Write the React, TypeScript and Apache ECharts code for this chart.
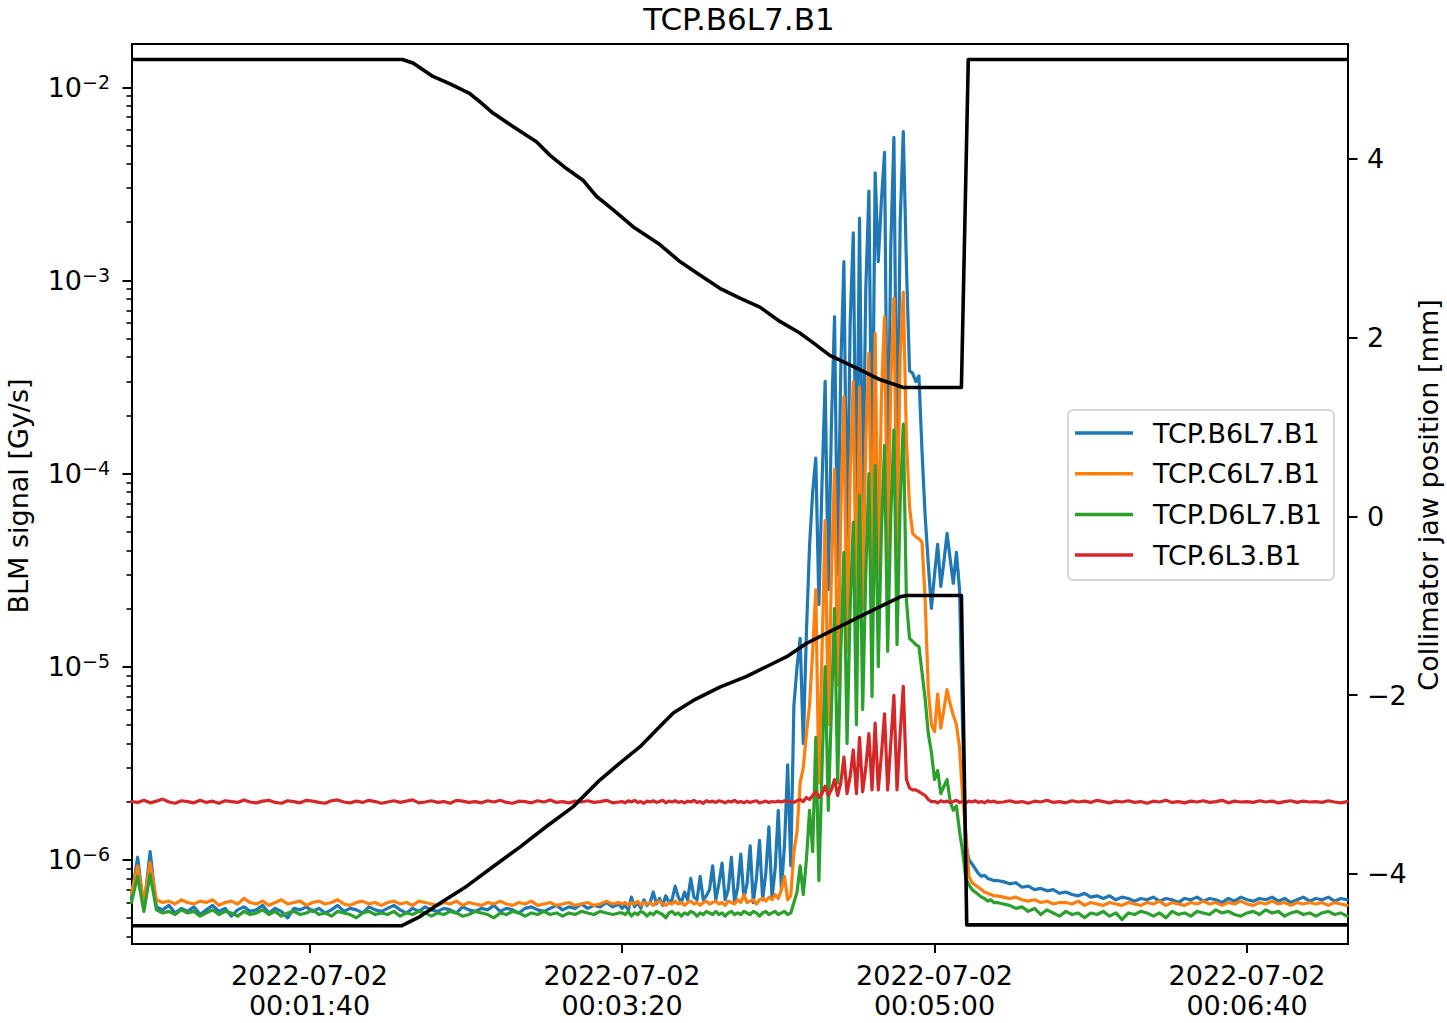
import React, { useEffect, useRef } from "react";
import * as echarts from "echarts";

const FONT = "DejaVu Sans";
// BLM signal values below are written in units of 1e-7 Gy/s
const UNIT = 1e-7;

const seriesNames = ["TCP.B6L7.B1", "TCP.C6L7.B1", "TCP.D6L7.B1", "TCP.6L3.B1"];
const seriesColors = ["#1f77b4", "#ff7f0e", "#2ca02c", "#d62728"];

// sampling of the BLM arrays (seconds after 2022-07-02 00:00:00)
const segA = { start: 43, step: 2 }; // 43 .. 199
const segB = { start: 200, step: 1 }; // 200 .. 320
const segC = { start: 322, step: 2 }; // 322 .. 432

// x axis ticks
const xTickSeconds = [100, 200, 300, 400];
const xTickLabels = ["2022-07-02\n00:01:40", "2022-07-02\n00:03:20", "2022-07-02\n00:05:00", "2022-07-02\n00:06:40"];
// left (log) axis ticks
const blmTicks = [1e-6, 1e-5, 1e-4, 1e-3, 1e-2];
const blmMinorTicks = [
  4e-7, 5e-7, 6e-7, 7e-7, 8e-7, 9e-7,
  2e-6, 3e-6, 4e-6, 5e-6, 6e-6, 7e-6, 8e-6, 9e-6,
  2e-5, 3e-5, 4e-5, 5e-5, 6e-5, 7e-5, 8e-5, 9e-5,
  2e-4, 3e-4, 4e-4, 5e-4, 6e-4, 7e-4, 8e-4, 9e-4,
  2e-3, 3e-3, 4e-3, 5e-3, 6e-3, 7e-3, 8e-3, 9e-3,
];
// right axis ticks
const jawTicks = [-4, -2, 0, 2, 4];

// ---- TCP.B6L7.B1 (blue)
const blueA = [
  6.3, 10.3, 5.6, 11.0, 5.7, 5.5, 5.8, 5.3, 5.6, 5.4,
  5.7, 5.2, 5.5, 5.8, 5.4, 5.6, 5.1, 5.5, 5.7, 5.4,
  5.5, 5.8, 5.3, 5.6, 5.4, 5.0, 5.6, 5.5, 5.7, 5.4,
  5.6, 5.3, 5.5, 5.8, 5.4, 5.6, 5.5, 5.3, 5.7, 5.5,
  5.4, 5.6, 5.8, 5.5, 5.3, 5.6, 5.4, 5.7, 5.5, 5.4,
  5.6, 5.5, 5.3, 5.7, 5.5, 5.4, 5.6, 5.5, 5.8, 5.4,
  5.6, 5.5, 5.3, 5.6, 5.7, 5.5, 5.4, 5.6, 5.8, 5.5,
  5.7, 5.6, 5.9, 5.6, 5.8, 5.7, 6.0, 5.7, 5.9,
];
const blueB = [
  5.6, 5.8, 5.5, 6.4, 5.7, 6.0, 5.6, 6.2, 5.8, 6.0,
  6.8, 5.9, 6.3, 5.8, 6.5, 6.0, 6.2, 7.3, 6.4, 6.0,
  6.8, 6.2, 8.0, 6.4, 6.2, 8.2, 6.2, 6.5, 7.0, 9.3,
  6.2, 7.5, 9.6, 6.2, 7.0, 10.3, 6.0, 7.2, 10.7, 6.3,
  7.5, 11.8, 6.0, 8.0, 12.6, 6.2, 8.5, 14.8, 6.3, 9.0,
  18, 7.0, 12, 31, 9.3, 63, 100, 140, 40, 150,
  420, 800, 1200, 210, 900, 3000, 250, 1800, 6500, 300,
  3500, 12500, 400, 6000, 17600, 500, 21000, 600, 9000, 29000,
  800, 36000, 12500, 26000, 46000, 700, 15000, 55000, 900, 20000,
  59000, 12000, 3400, 3300, 3000, 3200, 1300, 600, 340, 200,
  300, 430, 260, 350, 490, 360, 270, 390, 250, 46,
  12, 10, 9.5, 9.0, 8.5, 8.2, 8.3, 8.0, 7.9, 7.8,
  7.8,
];
const blueC = [
  7.7, 7.5, 7.6, 7.2, 7.3, 7.0, 7.1, 6.9, 7.0, 6.7,
  6.8, 6.6, 6.5, 6.7, 6.4, 6.5, 6.3, 6.5, 6.2, 6.4,
  6.3, 6.1, 6.3, 6.2, 6.4, 6.1, 6.3, 6.2, 6.0, 6.3,
  6.2, 6.4, 6.1, 6.3, 6.2, 6.0, 6.3, 6.1, 6.4, 6.2,
  6.1, 6.3, 6.2, 6.4, 6.1, 6.3, 6.0, 6.2, 6.4, 6.1,
  6.3, 6.2, 6.4, 6.1, 6.3, 6.2,
];

// ---- TCP.C6L7.B1 (orange)
const orangeA = [
  6.7, 9.3, 6.0, 9.7, 6.2, 6.0, 6.1, 5.9, 6.2, 6.0,
  5.9, 6.1, 6.0, 6.2, 5.8, 6.0, 6.1, 5.9, 6.3, 6.0,
  5.9, 6.1, 5.8, 6.0, 6.2, 5.9, 6.0, 6.1, 5.8, 6.0,
  6.1, 5.9, 6.0, 6.2, 5.9, 5.8, 6.0, 6.1, 5.9, 6.0,
  5.8, 6.0, 6.1, 5.9, 6.0, 5.8, 6.1, 6.0, 5.9, 5.8,
  6.0, 5.9, 6.1, 5.8, 6.0, 5.9, 5.8, 6.0, 5.9, 6.1,
  5.9, 5.8, 6.0, 5.9, 6.1, 5.8, 5.9, 6.0, 5.8, 5.9,
  6.0, 5.8, 5.9, 6.0, 5.8, 5.9, 6.1, 5.9, 6.0,
];
const orangeB = [
  5.9, 6.0, 5.8, 6.0, 5.9, 6.1, 5.8, 6.0, 5.9, 6.0,
  5.8, 6.0, 6.1, 5.9, 5.8, 6.0, 5.9, 6.1, 5.9, 6.0,
  5.8, 6.0, 6.1, 5.9, 6.0, 5.8, 6.0, 6.1, 5.9, 6.0,
  6.1, 5.9, 6.0, 5.8, 6.1, 6.0, 5.9, 6.2, 6.0, 6.6,
  6.0, 6.1, 6.2, 5.9, 6.2, 6.3, 6.1, 6.4, 6.2, 6.6,
  6.3, 7.0, 8.2, 6.2, 6.5, 11, 14, 25, 30, 45,
  63, 120, 250, 25, 120, 570, 50, 300, 1050, 80,
  600, 2500, 120, 1000, 3000, 160, 2800, 200, 1500, 4200,
  250, 5300, 300, 2500, 6500, 350, 3000, 8100, 400, 4000,
  8700, 1500, 670, 490, 470, 460, 440, 220, 76, 50,
  46, 72, 48, 60, 76, 64, 56, 50, 38, 21,
  14, 8.2, 7.6, 7.4, 7.2, 7.0, 6.8, 6.7, 6.6, 6.5,
  6.5,
];
const orangeC = [
  6.4, 6.3, 6.4, 6.2, 6.1, 6.2, 6.0, 6.1, 5.9, 6.0,
  6.0, 5.9, 6.1, 5.8, 6.0, 5.9, 5.8, 6.0, 5.9, 5.8,
  6.0, 5.9, 5.8, 6.0, 5.9, 6.1, 5.8, 6.0, 5.9, 5.8,
  6.0, 5.9, 6.1, 5.9, 6.0, 5.8, 6.0, 5.9, 6.1, 5.9,
  5.8, 6.0, 5.9, 6.1, 5.9, 6.0, 5.8, 6.0, 5.9, 6.0,
  5.9, 6.0, 5.8, 6.0, 5.9, 5.8,
];

// ---- TCP.D6L7.B1 (green)
const greenA = [
  6.0, 8.2, 5.4, 8.4, 5.5, 5.3, 5.4, 5.2, 5.5, 5.3,
  5.4, 5.1, 5.3, 5.5, 5.2, 5.4, 5.3, 5.1, 5.4, 5.2,
  5.3, 5.5, 5.2, 5.4, 5.1, 5.3, 5.4, 5.2, 5.3, 5.5,
  5.2, 5.3, 5.1, 5.4, 5.3, 5.2, 5.0, 5.3, 5.4, 5.2,
  5.3, 5.2, 5.4, 5.1, 5.3, 5.2, 5.4, 5.3, 5.1, 5.3,
  5.2, 5.4, 5.3, 5.1, 5.2, 5.4, 5.3, 5.2, 5.0, 5.3,
  5.2, 5.4, 5.3, 5.1, 5.3, 5.2, 5.4, 5.2, 5.3, 5.1,
  5.3, 5.2, 5.4, 5.3, 5.2, 5.4, 5.3, 5.2, 5.3,
];
const greenB = [
  5.3, 5.2, 5.4, 5.1, 5.3, 5.2, 5.4, 5.3, 5.1, 5.3,
  5.2, 5.4, 5.3, 5.2, 5.0, 5.3, 5.4, 5.2, 5.3, 5.1,
  5.3, 5.2, 5.4, 5.3, 5.1, 5.3, 5.2, 5.4, 5.3, 5.2,
  5.4, 5.2, 5.3, 5.1, 5.3, 5.4, 5.2, 5.3, 5.2, 5.4,
  5.3, 5.2, 5.4, 5.3, 5.1, 5.3, 5.4, 5.2, 5.3, 5.4,
  5.2, 5.3, 5.4, 5.2, 5.3, 6.0, 6.8, 9.3, 6.6, 10,
  18, 11, 43, 7.8, 30, 100, 18, 60, 200, 25,
  120, 390, 40, 200, 560, 50, 770, 60, 300, 1000,
  70, 1100, 100, 500, 1400, 120, 600, 1680, 130, 700,
  1800, 220, 140, 135, 130, 127, 93, 68, 45, 36,
  26, 29, 22, 24, 26, 20, 18, 19, 14, 11,
  8.0, 7.4, 7.0, 6.8, 6.6, 6.4, 6.3, 6.1, 6.2, 6.0,
  6.0,
];
const greenC = [
  5.9, 5.8, 5.6, 5.7, 5.4, 5.6, 5.2, 5.5, 5.3, 5.1,
  5.4, 5.2, 5.3, 5.0, 5.3, 5.2, 5.4, 5.1, 5.3, 4.9,
  5.3, 5.2, 5.4, 5.3, 5.1, 5.3, 5.0, 5.4, 5.2, 5.3,
  5.1, 5.4, 5.3, 5.2, 5.5, 5.3, 5.4, 5.2, 5.1, 5.3,
  5.4, 5.2, 5.5, 5.3, 5.4, 5.1, 5.3, 5.4, 5.2, 5.3,
  5.1, 5.3, 5.4, 5.2, 5.3, 5.1,
];

// ---- TCP.6L3.B1 (red)
const redA = [
  20.0, 19.8, 20.3, 19.7, 20.1, 20.6, 19.9, 19.6, 20.2, 20.0,
  19.7, 20.3, 19.8, 20.1, 19.6, 20.2, 20.0, 19.8, 20.4, 19.9,
  19.7, 20.1, 20.3, 19.8, 19.6, 20.2, 20.0, 19.7, 20.3, 20.1,
  19.8, 19.6, 20.2, 20.4, 19.9, 19.7, 20.1, 19.8, 20.3, 20.0,
  19.6, 19.9, 20.2, 19.8, 20.1, 20.4, 19.7, 19.9, 20.2, 19.8,
  20.0, 19.6, 20.3, 20.1, 19.8, 20.0, 19.7, 20.2, 19.9, 20.3,
  19.8, 19.6, 20.1, 20.0, 19.7, 20.2, 19.9, 20.4, 19.8, 20.0,
  19.7, 20.1, 19.9, 20.2, 19.8, 20.0, 20.3, 19.7, 19.9,
];
const redB = [
  20.0, 19.7, 20.2, 19.9, 20.3, 19.8, 20.0, 19.6, 20.1, 19.9,
  20.2, 19.8, 20.0, 20.3, 19.7, 20.1, 19.9, 20.2, 19.8, 20.0,
  19.7, 20.1, 19.9, 20.3, 19.8, 20.0, 19.6, 20.2, 19.9, 20.1,
  19.8, 20.2, 20.0, 19.7, 20.1, 19.9, 20.3, 19.8, 20.0, 19.7,
  20.1, 19.8, 20.0, 20.2, 19.7, 19.9, 20.1, 19.8, 20.0, 19.9,
  20.1, 19.9, 20.2, 20.0, 20.0, 19.8, 20.2, 20.5, 20.0, 21.0,
  20.5, 21.5, 22.5, 21.0, 22.0, 24.0, 21.5, 23.0, 26.0, 21.5,
  25.0, 34.0, 22.0, 27.0, 37.0, 22.0, 43.0, 22.5, 30.0, 45.0,
  23.0, 51.0, 23.0, 35.0, 57.0, 23.0, 40.0, 71.0, 23.0, 45.0,
  79.0, 26.0, 23.5, 23.0, 23.0, 22.5, 22.0, 21.5, 20.5, 20.0,
  20.0, 19.7, 20.2, 19.9, 20.1, 19.8, 20.0, 20.3, 19.8, 20.0,
  19.7, 20.1, 19.9, 20.2, 19.8, 20.0, 19.7, 20.2, 19.9, 20.1,
  19.8,
];
const redC = [
  19.9, 20.2, 19.8, 20.0, 19.6, 20.1, 19.9, 20.3, 19.8, 20.0,
  19.7, 20.2, 19.9, 20.1, 19.8, 20.3, 20.0, 19.7, 20.1, 19.9,
  20.2, 19.8, 20.0, 19.6, 20.1, 19.9, 20.3, 19.8, 20.0, 19.7,
  20.1, 19.9, 20.2, 19.8, 20.0, 20.3, 19.7, 20.1, 19.9, 20.0,
  19.8, 20.2, 19.9, 20.1, 19.7, 20.0, 20.2, 19.8, 20.1, 19.9,
  20.0, 19.8, 20.2, 19.9, 19.7, 20.0,
];

// ---- collimator jaw positions [mm] (right axis)
const jawUpperT = [43.2, 129.7, 133.1, 139.5, 144.8, 151.2, 154.4, 158.7, 165.1, 172.6, 176.9, 182.2, 187.5, 191.8, 197.1, 203.5, 212.1, 218.5, 224.9, 231.3, 237.7, 244.1, 250.5, 256.9, 261.2, 266.5, 271.9, 277.2, 282.5, 290.0, 308.6, 310.8, 432.3];
const jawUpperV = [5.11, 5.11, 5.07, 4.92, 4.84, 4.73, 4.64, 4.51, 4.36, 4.19, 4.04, 3.89, 3.76, 3.58, 3.43, 3.24, 3.04, 2.85, 2.7, 2.55, 2.44, 2.34, 2.18, 2.05, 1.94, 1.8, 1.71, 1.62, 1.53, 1.44, 1.44, 5.11, 5.11];
const jawLowerT = [43.2, 129.4, 135.2, 141.6, 150.2, 158.7, 167.3, 175.8, 184.3, 192.9, 199.3, 205.7, 212.1, 216.4, 222.8, 231.3, 239.9, 246.3, 252.7, 259.1, 267.6, 276.2, 282.6, 289.0, 291.1, 308.6, 310.3, 432.3];
const jawLowerV = [-4.58, -4.58, -4.48, -4.33, -4.14, -3.92, -3.7, -3.47, -3.25, -2.95, -2.76, -2.58, -2.35, -2.2, -2.06, -1.91, -1.79, -1.68, -1.57, -1.42, -1.27, -1.12, -1.01, -0.9, -0.885, -0.885, -4.57, -4.57];

// axis ranges
const X_MIN = 43.2;
const X_MAX = 432.3;
const BLM_MIN = 3.66e-7;
const BLM_MAX = 1.675e-2;
const JAW_MIN = -4.784;
const JAW_MAX = 5.283;

function seg(s: { start: number; step: number }, vals: number[]) {
  return vals.map((v, i) => [s.start + i * s.step, v * UNIT]);
}
function blm(a: number[], b: number[], c: number[]) {
  return [...seg(segA, a), ...seg(segB, b), ...seg(segC, c)];
}
function zipPairs(t: number[], v: number[]) {
  return t.map((x, i) => [x, v[i]]);
}

export default function App() {
  const ref = useRef<HTMLDivElement>(null);
  useEffect(() => {
    if (!ref.current) return;
    const chart = echarts.init(ref.current, undefined, { renderer: "svg" });
    const blmData = [
      blm(blueA, blueB, blueC),
      blm(orangeA, orangeB, orangeC),
      blm(greenA, greenB, greenC),
      blm(redA, redB, redC),
    ];
    const FS = 27;
    const tickLine = { color: "#000", width: 2 };
    const labelBase = { fontFamily: FONT, fontSize: FS, color: "#000" };
    const option: any = {
      animation: false,
      backgroundColor: "#fff",
      textStyle: { fontFamily: FONT },
      grid: {
        left: 132, top: 44, width: 1216, height: 900,
        show: true, borderColor: "#000", borderWidth: 2, backgroundColor: "transparent",
      },
      graphic: [
        {
          type: "text", x: 739, y: 19, silent: true,
          style: { text: "TCP.B6L7.B1", fontFamily: FONT, fontSize: 31, lineHeight: 31, fill: "#000", align: "center", verticalAlign: "middle" },
        },
        {
          type: "text", x: 18, y: 496, rotation: Math.PI / 2, silent: true,
          style: { text: "BLM signal [Gy/s]", fontFamily: FONT, fontSize: FS, fill: "#000", align: "center", verticalAlign: "middle" },
        },
        {
          type: "text", x: 1428, y: 495, rotation: Math.PI / 2, silent: true,
          style: { text: "Collimator jaw position [mm]", fontFamily: FONT, fontSize: FS, fill: "#000", align: "center", verticalAlign: "middle" },
        },
      ],
      legend: {
        data: seriesNames,
        orient: "vertical",
        left: 1068, top: 410,
        icon: "rect",
        itemWidth: 58, itemHeight: 3.5,
        itemGap: 10.7,
        padding: [8, 12, 10, 7],
        backgroundColor: "rgba(255,255,255,0.8)",
        borderColor: "#cccccc", borderWidth: 1.5, borderRadius: 5,
        selectedMode: false,
        textStyle: { fontFamily: FONT, fontSize: FS, color: "#000", lineHeight: 30, padding: [0, 0, 0, 15] },
      },
      xAxis: {
        type: "value", min: X_MIN, max: X_MAX,
        axisLine: { show: true, onZero: false, lineStyle: tickLine },
        axisTick: { show: true, customValues: xTickSeconds, length: 9, lineStyle: tickLine },
        axisLabel: {
          ...labelBase, lineHeight: 30, margin: 16,
          customValues: xTickSeconds,
          formatter: (v: number) => xTickLabels[xTickSeconds.indexOf(Math.round(v))] ?? "",
        },
        splitLine: { show: false },
      },
      yAxis: [
        {
          type: "log", logBase: 10, min: BLM_MIN, max: BLM_MAX, position: "left",
          axisLine: { show: true, onZero: false, lineStyle: tickLine },
          axisTick: { show: true, customValues: blmTicks, length: 9.5, lineStyle: tickLine },
          axisLabel: {
            ...labelBase, lineHeight: 30, margin: 22,
            customValues: blmTicks,
            formatter: (v: number) => {
              const e = Math.round(Math.log10(v));
              return "10{sup|" + (e < 0 ? "\u2212" : "") + Math.abs(e) + "}";
            },
            rich: { sup: { fontFamily: FONT, fontSize: 19, lineHeight: 19, verticalAlign: "top", color: "#000" } },
          },
          splitLine: { show: false },
          minorTick: { show: false },
        },
        {
          type: "value", min: JAW_MIN, max: JAW_MAX, position: "right",
          axisLine: { show: true, onZero: false, lineStyle: tickLine },
          axisTick: { show: true, customValues: jawTicks, length: 9.5, lineStyle: tickLine },
          axisLabel: {
            ...labelBase, margin: 19,
            customValues: jawTicks,
            formatter: (v: number) => (v < 0 ? "\u2212" + Math.abs(v) : String(v)),
          },
          splitLine: { show: false },
        },
        {
          type: "log", logBase: 10, min: BLM_MIN, max: BLM_MAX, position: "left",
          axisLine: { show: false, onZero: false },
          axisTick: { show: true, customValues: blmMinorTicks, length: 5.5, lineStyle: { color: "#000", width: 1.6 } },
          axisLabel: { show: false },
          splitLine: { show: false },
        },
      ],
      series: [
        ...seriesNames.map((name, k) => ({
          name, type: "line", yAxisIndex: 0, data: blmData[k],
          symbol: "none", showSymbol: false, silent: true, z: 2,
          lineStyle: { width: 3.2, color: seriesColors[k], join: "round", cap: "round" },
          itemStyle: { color: seriesColors[k] },
        })),
        {
          name: "upper jaw", type: "line", yAxisIndex: 1, data: zipPairs(jawUpperT, jawUpperV),
          symbol: "none", showSymbol: false, silent: true, z: 3,
          lineStyle: { width: 3.6, color: "#000", join: "round" }, itemStyle: { color: "#000" },
        },
        {
          name: "lower jaw", type: "line", yAxisIndex: 1, data: zipPairs(jawLowerT, jawLowerV),
          symbol: "none", showSymbol: false, silent: true, z: 3,
          lineStyle: { width: 3.6, color: "#000", join: "round" }, itemStyle: { color: "#000" },
        },
      ],
    };
    chart.setOption(option);
    return () => chart.dispose();
  }, []);
  return <div ref={ref} style={{ position: "fixed", left: 0, top: 0, width: 1447, height: 1023 }} />;
}
